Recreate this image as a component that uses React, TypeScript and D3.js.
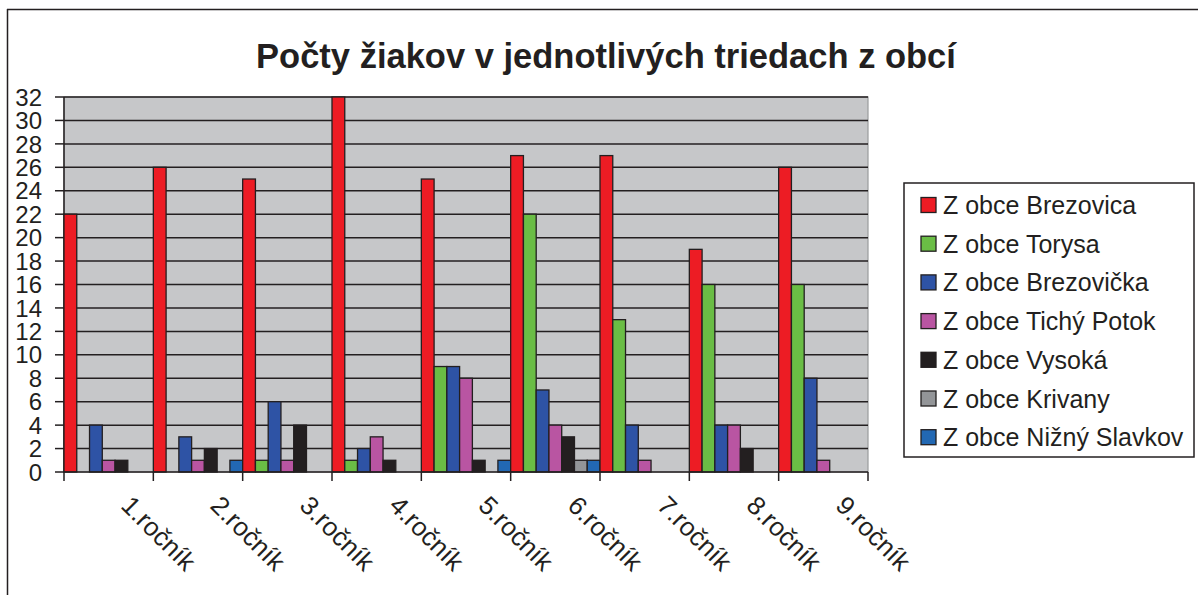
import React from 'react';
import * as d3 from 'd3';

const categories = ['1.ročník', '2.ročník', '3.ročník', '4.ročník', '5.ročník', '6.ročník', '7.ročník', '8.ročník', '9.ročník'];

const seriesNames = [
  'Z obce Brezovica',
  'Z obce Torysa',
  'Z obce Brezovička',
  'Z obce Tichý Potok',
  'Z obce Vysoká',
  'Z obce Krivany',
  'Z obce Nižný Slavkov',
];

const seriesColors = ['#ed1c24', '#6abd45', '#2e53a5', '#b955a2', '#231f20', '#939598', '#2268b3'];

const brezovica = [22, 26, 25, 32, 25, 27, 27, 19, 26];
const torysa = [0, 0, 1, 1, 9, 22, 13, 16, 16];
const brezovicka = [4, 3, 6, 2, 9, 7, 4, 4, 8];
const tichyPotok = [1, 1, 1, 3, 8, 4, 1, 4, 1];
const vysoka = [1, 2, 4, 1, 1, 3, 0, 2, 0];
const krivany = [0, 0, 0, 0, 0, 1, 0, 0, 0];
const niznySlavkov = [0, 1, 0, 0, 1, 1, 0, 0, 0];

const seriesValues = [brezovica, torysa, brezovicka, tichyPotok, vysoka, krivany, niznySlavkov];

const yTicks = d3.range(0, 33, 2);

const W = 1198;
const H = 595;
const font = '"Liberation Sans", Arial, sans-serif';

export default function App() {
  const plot = { left: 64, right: 868, top: 97, bottom: 472 };

  const x = d3.scaleBand<string>()
    .domain(categories)
    .range([plot.left, plot.right])
    .padding(0);

  // bars fill the whole category band, no gaps
  const xInner = d3.scaleBand<number>()
    .domain(d3.range(seriesNames.length))
    .range([0, x.bandwidth()])
    .padding(0);

  const y = d3.scaleLinear().domain([0, 32]).range([plot.bottom, plot.top]);

  const tickEdges = d3.range(categories.length + 1).map(i => plot.left + i * x.bandwidth());

  const legend = { x: 904, y: 183, w: 290, h: 274, rowStart: 205, rowGap: 38.7 };

  return (
    <div style={{ position: 'fixed', left: 0, top: 0 }}>
      <svg width={W} height={H} style={{ display: 'block', background: '#fff' }}>
        {/* outer frame */}
        <line x1={7.5} x2={7.5} y1={9} y2={H} stroke="#231f20" strokeWidth={1.5} />
        <line x1={7} x2={W} y1={9.5} y2={9.5} stroke="#231f20" strokeWidth={1.5} />

        <text x={606} y={68} textAnchor="middle" fontFamily={font} fontWeight="bold" fontSize={34.5} fill="#231f20">
          Počty žiakov v jednotlivých triedach z obcí
        </text>

        {/* plot area */}
        <rect x={plot.left} y={plot.top} width={plot.right - plot.left} height={plot.bottom - plot.top}
          fill="#c6c7c9" stroke="#9a9b9d" strokeWidth={1.2} />

        {yTicks.filter(t => t > 0).map(t => (
          <line key={'g' + t} x1={plot.left} x2={plot.right} y1={y(t)} y2={y(t)} stroke="#231f20" strokeWidth={1.5} />
        ))}

        {/* y axis */}
        <line x1={plot.left} x2={plot.left} y1={plot.top} y2={plot.bottom} stroke="#231f20" strokeWidth={1.5} />
        {yTicks.map(t => (
          <g key={'y' + t}>
            <line x1={55} x2={plot.left} y1={y(t)} y2={y(t)} stroke="#231f20" strokeWidth={1.5} />
            <text x={42} y={y(t)} dy="0.36em" textAnchor="end" fontFamily={font} fontSize={24} fill="#231f20">{t}</text>
          </g>
        ))}

        {/* bars */}
        {categories.map((c, ci) => (
          <g key={c} transform={`translate(${x(c)},0)`}>
            {seriesValues.map((vals, si) => vals[ci] > 0 ? (
              <rect key={si}
                x={xInner(si)!}
                y={y(vals[ci])}
                width={xInner.bandwidth()}
                height={y(0) - y(vals[ci])}
                fill={seriesColors[si]}
                stroke="#231f20"
                strokeWidth={1.3} />
            ) : null)}
          </g>
        ))}

        {/* x axis */}
        <line x1={plot.left} x2={plot.right} y1={plot.bottom} y2={plot.bottom} stroke="#231f20" strokeWidth={1.5} />
        {tickEdges.map((tx, i) => (
          <line key={'t' + i} x1={tx} x2={tx} y1={plot.bottom} y2={plot.bottom + 9} stroke="#231f20" strokeWidth={1.5} />
        ))}
        {categories.map(c => {
          const cx = x(c)! + x.bandwidth() / 2 + 11;
          return (
            <text key={'l' + c} transform={`translate(${cx},${507}) rotate(45)`}
              fontFamily={font} fontSize={26} fill="#231f20">{c}</text>
          );
        })}

        {/* legend */}
        <rect x={legend.x} y={legend.y} width={legend.w} height={legend.h} fill="#fff" stroke="#231f20" strokeWidth={1.5} />
        {seriesNames.map((name, i) => {
          const cy = legend.rowStart + i * legend.rowGap;
          return (
            <g key={name}>
              <rect x={921} y={cy - 7.5} width={15} height={15} fill={seriesColors[i]} stroke="#231f20" strokeWidth={1.3} />
              <text x={943} y={cy} dy="0.36em" fontFamily={font} fontSize={25} fill="#231f20">{name}</text>
            </g>
          );
        })}
      </svg>
    </div>
  );
}
